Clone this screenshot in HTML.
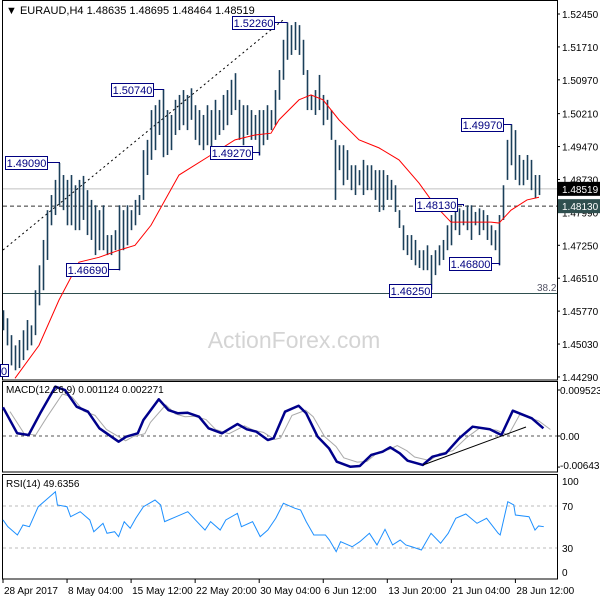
<!DOCTYPE html>
<html><head><meta charset="utf-8"><style>
html,body{margin:0;padding:0;background:#fff;}
svg{display:block;font-family:"Liberation Sans",sans-serif;}
</style></head><body>
<svg id="c" width="600" height="600" viewBox="0 0 600 600"></svg>
<script>
// ---- data ----
const highs=[1.4579,1.4561,1.4523,1.4500,1.4512,1.4534,1.4557,1.4545,1.4624,1.4680,1.4737,1.4804,1.4838,1.4872,1.4910,1.4883,1.4872,1.4883,1.4860,1.4872,1.4881,1.4849,1.4827,1.4815,1.4804,1.4815,1.4748,1.4748,1.4759,1.4815,1.4804,1.4815,1.4804,1.4827,1.4838,1.4939,1.4962,1.5029,1.5040,1.5052,1.5076,1.5029,1.5018,1.5052,1.5063,1.5074,1.5063,1.5078,1.5040,1.5029,1.5018,1.5040,1.5029,1.5052,1.5029,1.5063,1.5074,1.5097,1.5112,1.5052,1.5040,1.5040,1.5029,1.5018,1.5029,1.5029,1.5040,1.5029,1.5074,1.5119,1.5187,1.5226,1.5220,1.5227,1.5220,1.5187,1.5119,1.5063,1.5074,1.5108,1.5063,1.5052,1.5029,1.4962,1.4950,1.4950,1.4939,1.4905,1.4905,1.4894,1.4917,1.4905,1.4905,1.4894,1.4894,1.4894,1.4883,1.4872,1.4860,1.4804,1.4770,1.4748,1.4748,1.4737,1.4714,1.4714,1.4725,1.4703,1.4714,1.4725,1.4737,1.4770,1.4793,1.4815,1.4808,1.4804,1.4815,1.4815,1.4800,1.4808,1.4804,1.4793,1.4770,1.4759,1.4793,1.4860,1.4962,1.4997,1.4984,1.4928,1.4917,1.4928,1.4917,1.4883,1.4883];
const lows=[1.4534,1.4500,1.4455,1.4444,1.4449,1.4467,1.4489,1.4500,1.4523,1.4590,1.4624,1.4692,1.4770,1.4793,1.4815,1.4804,1.4770,1.4770,1.4759,1.4759,1.4782,1.4748,1.4737,1.4703,1.4714,1.4714,1.4703,1.4703,1.4714,1.4669,1.4714,1.4725,1.4759,1.4770,1.4793,1.4827,1.4883,1.4917,1.4939,1.4973,1.4923,1.4928,1.4939,1.4973,1.4984,1.4995,1.4984,1.5007,1.4962,1.4950,1.4939,1.4950,1.4939,1.4962,1.4973,1.4984,1.4995,1.5018,1.5029,1.4962,1.4950,1.4973,1.4962,1.4962,1.4927,1.4950,1.4962,1.4984,1.4995,1.5052,1.5097,1.5142,1.5153,1.5164,1.5153,1.5108,1.5029,1.5029,1.5018,1.5029,1.4995,1.5007,1.4962,1.4827,1.4894,1.4860,1.4872,1.4849,1.4838,1.4860,1.4838,1.4849,1.4849,1.4827,1.4800,1.4804,1.4827,1.4827,1.4800,1.4764,1.4714,1.4703,1.4692,1.4680,1.4674,1.4669,1.4669,1.4625,1.4658,1.4680,1.4692,1.4714,1.4725,1.4759,1.4748,1.4770,1.4759,1.4737,1.4770,1.4748,1.4759,1.4737,1.4725,1.4714,1.4680,1.4782,1.4872,1.4905,1.4872,1.4860,1.4860,1.4872,1.4849,1.4831,1.4838];
const maIdx=[3,9,14,19,24,29,33,37,44,52,58,63,67,69,74,77,80,84,89,94,99,104,108,112,117,122,124,127,131,134];
const maVal=[1.4426,1.4500,1.4602,1.4687,1.4698,1.4714,1.4725,1.4770,1.4883,1.4928,1.4962,1.4973,1.4977,1.5007,1.5052,1.5063,1.5052,1.5007,1.4962,1.4944,1.4917,1.4865,1.4815,1.4777,1.4777,1.4777,1.4775,1.4804,1.4827,1.4833];
const macdIdx=[0,3.55,6.4,9.3,13.1,15.5,18.4,21.25,24.1,28.9,30.8,33.7,35.1,38.95,41.35,43.75,46.1,49,51.4,54.75,58.6,60.95,63.35,66.2,67.65,70.5,73.9,75.8,78.65,81.5,83.45,86.8,89.2,92.05,94.9,96.8,99.2,101.15,104.95,107.35,110.7,114.05,117.4,121.7,124.6,127.45,132.2,135.1];
const macdVal=[0.00594,0.00056,0.00021,0.00470,0.01021,0.00952,0.00607,0.00503,0.00159,-0.00118,-0.00014,0.00056,0.00331,0.00760,0.00538,0.00470,0.00482,0.00400,0.00159,0.00056,0.00248,0.00139,0.00089,-0.00083,-0.00048,0.00503,0.00627,0.00470,-0.00014,-0.00255,-0.00532,-0.00636,-0.00621,-0.00393,-0.00325,-0.00234,-0.00358,-0.00511,-0.00600,-0.00429,-0.00358,-0.00048,0.00193,0.00139,0.00021,0.00524,0.00366,0.00159];
const rsiIdx=[0,1.2,3.6,5,6.6,8.8,11.2,13.1,13.6,16,16.9,19.3,21.7,22.7,25,26,27.9,28.9,30.3,31.8,33.2,35.1,38,39.4,40.4,43.3,46.2,48.1,50.5,51.9,54.3,55.7,58.6,59.6,62.4,64.3,66.2,68.2,70.1,73,74.4,75.8,77.7,80.6,81.6,83.3,84.4,87.3,89.2,91.6,93.5,95.5,97.4,99.3,100.7,102.2,104.6,107,109.4,111.3,113.2,115.7,118.5,120.9,123.8,124.3,126.2,127.7,128.1,131.5,133,133.9,135.2];
const rsiVal=[56.7,50.3,42.4,51.9,50.3,69.3,77.3,83.6,71,69.3,59.8,64.6,56.7,45.5,53.5,44,45.5,40.8,55.1,48.8,58.3,69.3,75.7,71,55.1,59.8,64.6,56.7,47.1,55.1,47.1,56.7,63,50.3,55.1,40.8,47.1,58.3,72.6,67.8,66.2,55.1,42.4,42.4,37.6,26.5,36,31.2,36,44,32.9,47.8,32.9,37.6,32.9,31.2,28.1,44,34.5,44,58.3,62.4,53.5,58.3,44,42.4,74.1,71,61.4,59.8,47.1,51,50.3];
const priceTicks=[1.52450,1.51710,1.50970,1.50210,1.49470,1.48730,1.47990,1.47250,1.46510,1.45770,1.45030,1.44290];
const timeLabels=["28 Apr 2017","8 May 04:00","15 May 12:00","22 May 20:00","30 May 04:00","6 Jun 12:00","13 Jun 20:00","21 Jun 04:00","28 Jun 12:00"];
const annotations=[[1.4909,"1.49090",5,156,14],[1.5074,"1.50740",111,83,40],[1.5226,"1.52260",232,16,71],[1.4927,"1.49270",210,146,64],[1.4669,"1.46690",66,263,29],[1.4997,"1.49970",461,118,127],[1.4813,"1.48130",415,198,115],[1.4680,"1.46800",449,257,124],[1.4625,"1.46250",389,284,107]];
// ---- scales ----
const bx=i=>3+4*i;
const py=p=>14+(1.5245-p)*4448;
const my=v=>436-v*4830;
const ry=v=>579.5-1.05*v;
const svg=document.getElementById('c');
const NS='http://www.w3.org/2000/svg';
function mk(tag,attrs,parent){const e=document.createElementNS(NS,tag);for(const k in attrs)e.setAttribute(k,attrs[k]);(parent||svg).appendChild(e);return e;}
let f;
f=mk('rect',{x:2.5,y:0.5,width:555,height:379.5,fill:'none',stroke:'#000'});

f=mk('rect',{x:2.5,y:381.5,width:555,height:90.5,fill:'none',stroke:'#000'});

f=mk('rect',{x:2.5,y:474.5,width:555,height:104.5,fill:'none',stroke:'#000'});

f=mk('text',{x:294,y:348,'font-size':23,fill:'#d4d4d4','text-anchor':'middle'});f.textContent='ActionForex.com';

f=mk('line',{x1:3,x2:557,y1:py(1.48519),y2:py(1.48519),stroke:'#c0c0c0'});

f=mk('line',{x1:3,x2:557,y1:py(1.4813),y2:py(1.4813),stroke:'#333','stroke-dasharray':'4,3'});

f=mk('line',{x1:3,x2:557,y1:293.5,y2:293.5,stroke:'#2f4f4f'});

f=mk('text',{x:537,y:291,'font-size':10,fill:'#556'});f.textContent='38.2';

f=mk('line',{x1:3,y1:250,x2:283,y2:20,stroke:'#000','stroke-dasharray':'2,3'});

for(let i=0;i<highs.length;i++){
 const b=mk('line',{x1:bx(i)+0.5,x2:bx(i)+0.5,y1:py(highs[i]),y2:py(lows[i]),stroke:'#1b3f5a','stroke-width':1.6});
 
 
}
f=mk('polyline',{points:maIdx.map((d,i)=>bx(d)+','+py(maVal[i])).join(' '),fill:'none',stroke:'#f00','stroke-width':1});

annotations.forEach(a=>{
 const g=mk('g',{});
 
 
 const x=a[2],y=a[3],w=42,h=13,bar=a[4];
 const tx=bx(bar)+0.5, ty=py(a[0]);
 mk('polyline',{points:`${x+w},${y+h/2} ${tx},${y+h/2} ${tx},${ty}`,fill:'none',stroke:'#000080'},g);
 mk('rect',{x:x+0.5,y:y+0.5,width:w,height:h,fill:'#fff',stroke:'#000080'},g);
 const t=mk('text',{x:x+w/2+0.5,y:y+11,'font-size':11,fill:'#000080','text-anchor':'middle'},g);t.textContent=a[1];
});
f=mk('rect',{x:0.5,y:364.5,width:8,height:12,fill:'#fff',stroke:'#000080'});

f=mk('text',{x:1,y:375,'font-size':11,fill:'#000080'});f.textContent='0';
f=mk('text',{x:6,y:14,'font-size':11,fill:'#000'});f.textContent='▼ EURAUD,H4  1.48635 1.48695 1.48464 1.48519';

priceTicks.forEach(p=>{
 mk('line',{x1:557,x2:560,y1:py(p),y2:py(p),stroke:'#000'});
 const t=mk('text',{x:562,y:py(p)+4,'font-size':10,fill:'#000'});t.textContent=p.toFixed(5);
 
 
});
f=mk('rect',{x:558,y:py(1.48519)-7,width:42,height:14,fill:'#000'});

f=mk('text',{x:562,y:py(1.48519)+4,'font-size':10,fill:'#fff'});f.textContent='1.48519';
f=mk('rect',{x:558,y:py(1.4813)-7,width:42,height:14,fill:'#2f4f4f'});

f=mk('text',{x:562,y:py(1.4813)+4,'font-size':10,fill:'#fff'});f.textContent='1.48130';
// MACD
f=mk('line',{x1:3,x2:557,y1:my(0),y2:my(0),stroke:'#555','stroke-dasharray':'3,3'});

f=mk('polyline',{points:macdIdx.map((d,i)=>(bx(d)+7)+','+my(macdVal[i]*0.85)).join(' '),fill:'none',stroke:'#aaa','stroke-width':1});

f=mk('polyline',{points:macdIdx.map((d,i)=>bx(d)+','+my(macdVal[i])).join(' '),fill:'none',stroke:'#00008b','stroke-width':2.5,'stroke-linejoin':'round'});

f=mk('line',{x1:423,y1:465,x2:526,y2:427,stroke:'#000'});

f=mk('text',{x:6,y:393,'font-size':10,fill:'#000'});f.textContent='MACD(12,26,9) 0.001124 0.002271';

[[0.009523,'0.009523',394],[0,'0.00',440],[-0.006431,'-0.006431',469]].forEach(a=>{
 mk('line',{x1:557,x2:560,y1:my(a[0]),y2:my(a[0]),stroke:'#000'});
 const t=mk('text',{x:560,y:a[2],'font-size':10,fill:'#000'});t.textContent=a[1];
 
 
});
// RSI
[70,30].forEach(v=>{const l=mk('line',{x1:3,x2:557,y1:ry(v),y2:ry(v),stroke:'#bbb','stroke-dasharray':'3,3'});
 
 });
f=mk('polyline',{points:rsiIdx.map((d,i)=>bx(d)+','+ry(rsiVal[i])).join(' '),fill:'none',stroke:'#1e90ff','stroke-width':1});

f=mk('text',{x:6,y:487,'font-size':10,fill:'#000'});f.textContent='RSI(14) 49.6356';

[[100,485],[70,510],[30,552],[0,576]].forEach(a=>{
 const t=mk('text',{x:562,y:a[1],'font-size':10,fill:'#000'});t.textContent=String(a[0]);
 
 
});
// time axis
timeLabels.forEach((s,i)=>{
 const x=3+64.05*i;
 mk('line',{x1:x,x2:x,y1:579,y2:583,stroke:'#000'});
 const t=mk('text',{x:x+1,y:594,'font-size':10,fill:'#000'});t.textContent=s;
 
 
});
</script>
</body></html>
